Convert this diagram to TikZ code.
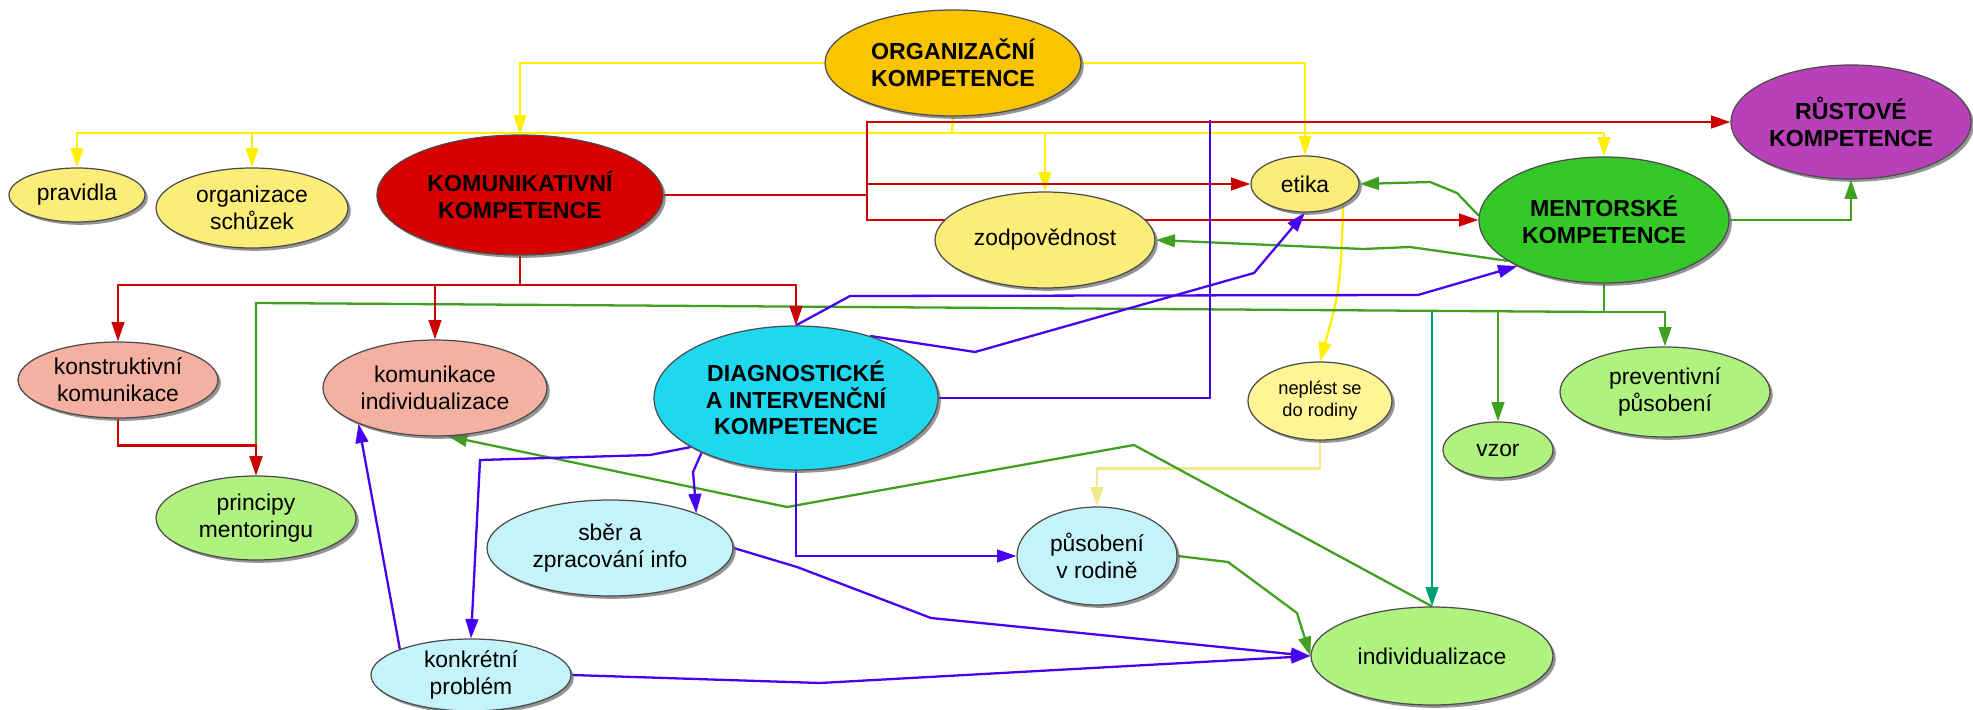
\documentclass[tikz,border=0pt]{standalone}
\usepackage{fontspec}
\setmainfont{Liberation Sans}
\usepackage{tikz}
\usepackage{xcolor}
\usetikzlibrary{shapes.geometric}
\usetikzlibrary{shadows}
\usetikzlibrary{arrows.meta}
\usetikzlibrary{backgrounds}

\definecolor{orgfill}{RGB}{250,196,0}
\definecolor{komfill}{RGB}{214,0,0}
\definecolor{rustfill}{RGB}{184,64,184}
\definecolor{mentfill}{RGB}{52,200,40}
\definecolor{diagfill}{RGB}{30,216,240}
\definecolor{leafyellow}{RGB}{252,236,120}
\definecolor{paleyellow}{RGB}{255,245,150}
\definecolor{leafpink}{RGB}{244,176,160}
\definecolor{leafgreen}{RGB}{176,242,128}
\definecolor{leafcyan}{RGB}{196,244,250}
\definecolor{lnyellow}{RGB}{255,240,0}
\definecolor{lnpale}{RGB}{240,232,140}
\definecolor{lnred}{RGB}{204,0,0}
\definecolor{lngreen}{RGB}{64,160,32}
\definecolor{lnteal}{RGB}{0,160,115}
\definecolor{lnblue}{RGB}{72,0,240}

\tikzset{
	bubble/.style={ellipse, draw=black!70, line width=0.35pt, inner sep=0pt, align=center,
		font=\fontsize{6.5}{7.6}\selectfont,
		drop shadow={shadow xshift=0.8pt, shadow yshift=-0.8pt, fill=black!60, opacity=0.7}},
	kompetence/.style={bubble, font=\bfseries\fontsize{6.6}{7.6}\selectfont},
	wire/.style={line width=0.65pt},
	arrowline/.style={line width=0.65pt, -{Triangle[length=5.5pt,width=3.6pt]}},
}

\begin{document}
\begin{tikzpicture}
	\useasboundingbox (0,0) rectangle (19.73,-7.10);
	\node [kompetence, fill=orgfill, minimum width=2.56cm, minimum height=1.06cm] (org) at (9.53,-0.63) {ORGANIZAČNÍ\\KOMPETENCE};
	\node [kompetence, fill=komfill, minimum width=2.86cm, minimum height=1.20cm] (komun) at (5.20,-1.95) {KOMUNIKATIVNÍ\\KOMPETENCE};
	\node [kompetence, fill=rustfill, minimum width=2.40cm, minimum height=1.14cm] (rust) at (18.51,-1.22) {RŮSTOVÉ\\KOMPETENCE};
	\node [kompetence, fill=mentfill, minimum width=2.50cm, minimum height=1.26cm] (ment) at (16.04,-2.20) {MENTORSKÉ\\KOMPETENCE};
	\node [kompetence, fill=diagfill, minimum width=2.84cm, minimum height=1.44cm] (diag) at (7.96,-3.98) {DIAGNOSTICKÉ\\A INTERVENČNÍ\\KOMPETENCE};
	\node [bubble, fill=leafyellow, minimum width=1.36cm, minimum height=0.54cm] (pravidla) at (0.77,-1.95) {pravidla};
	\node [bubble, fill=leafyellow, minimum width=1.92cm, minimum height=0.80cm] (schuzky) at (2.52,-2.08) {organizace\\schůzek};
	\node [bubble, fill=leafyellow, minimum width=1.08cm, minimum height=0.56cm] (etika) at (13.05,-1.84) {etika};
	\node [bubble, fill=leafyellow, minimum width=2.20cm, minimum height=0.96cm] (zodp) at (10.45,-2.40) {zodpovědnost};
	\node [bubble, fill=paleyellow, minimum width=1.44cm, minimum height=0.78cm, font=\fontsize{5.2}{6.3}\selectfont] (neplest) at (13.20,-4.01) {neplést se\\do rodiny};
	\node [bubble, fill=leafpink, minimum width=2.00cm, minimum height=0.76cm] (konstr) at (1.18,-3.80) {konstruktivní\\komunikace};
	\node [bubble, fill=leafpink, minimum width=2.24cm, minimum height=0.96cm] (komind) at (4.35,-3.88) {komunikace\\individualizace};
	\node [bubble, fill=leafgreen, minimum width=2.00cm, minimum height=0.84cm] (principy) at (2.56,-5.18) {principy\\mentoringu};
	\node [bubble, fill=leafgreen, minimum width=2.10cm, minimum height=0.90cm] (prev) at (16.65,-3.92) {preventivní\\působení};
	\node [bubble, fill=leafgreen, minimum width=1.10cm, minimum height=0.56cm] (vzor) at (14.98,-4.50) {vzor};
	\node [bubble, fill=leafgreen, minimum width=2.42cm, minimum height=0.98cm] (indiv) at (14.32,-6.56) {individualizace};
	\node [bubble, fill=leafcyan, minimum width=2.46cm, minimum height=0.96cm] (sber) at (6.10,-5.48) {sběr a\\zpracování info};
	\node [bubble, fill=leafcyan, minimum width=1.60cm, minimum height=0.98cm] (pusob) at (10.97,-5.56) {působení\\v rodině};
	\node [bubble, fill=leafcyan, minimum width=2.00cm, minimum height=0.72cm] (konkr) at (4.71,-6.75) {konkrétní\\problém};
	\coordinate (yj) at (9.52,-1.33);
	\coordinate (rj) at (8.67,-1.95);
	\coordinate (rs) at (5.20,-2.85);
	\coordinate (gj) at (16.04,-3.12);
	\coordinate (bt) at (12.10,-1.20);
	\begin{scope}[on background layer]
		\draw [wire, lnyellow] (org.south) -- (yj);
		\draw [arrowline, lnyellow] (org.west) -| (komun.north);
		\draw [arrowline, lnyellow] (org.east) -| (etika.north);
		\draw [arrowline, lnyellow] (yj) -| (pravidla.north);
		\draw [arrowline, lnyellow] (yj) -| (schuzky.north);
		\draw [arrowline, lnyellow] (yj) -| (zodp.north);
		\draw [arrowline, lnyellow] (yj) -| (ment.north);
		\draw [arrowline, lnyellow] (etika.-28) .. controls (13.40,-2.90) .. (neplest.north);
		\draw [arrowline, lnpale] (neplest.south) -- ++(0,-0.28) -| (pusob.north);
		\draw [wire, lngreen] (ment.south) -- (gj);
		\draw [arrowline, lngreen] (gj) -- (principy.north |- 0,-3.03) -- (principy.north);
		\draw [arrowline, lngreen] (gj) -| (prev.north);
		\draw [arrowline, lngreen] (vzor.north |- gj) -- (vzor.north);
		\draw [arrowline, lnteal] (indiv.north |- gj) -- (indiv.north);
		\draw [arrowline, lngreen] (ment.east) -| (rust.south);
		\draw [arrowline, lngreen] (ment.178) -- (14.57,-1.93) -- (14.30,-1.82) -- (etika.east);
		\draw [arrowline, lngreen] (ment.203) -- (14.10,-2.47) -- (13.63,-2.49) -- (zodp.east);
		\draw [arrowline, lngreen] (indiv.north) -- (11.34,-4.45) -- (7.87,-5.07) -- (komind.-75);
		\draw [arrowline, lngreen] (pusob.east) -- (12.28,-5.62) -- (12.97,-6.13) -- (indiv.west);
		\draw [wire, lnred] (komun.east) -- (rj);
		\draw [arrowline, lnred] (rj) |- (rust.west);
		\draw [arrowline, lnred] (rj) |- (etika.west);
		\draw [arrowline, lnred] (rj) |- (ment.west);
		\draw [wire, lnred] (komun.south) -- (rs);
		\draw [arrowline, lnred] (rs) -| (konstr.north);
		\draw [arrowline, lnred] (rs) -| (komind.north);
		\draw [arrowline, lnred] (rs) -| (diag.north);
		\draw [arrowline, lnred] (konstr.south) -- ++(0,-0.27) -| (principy.north);
		\draw [arrowline, lnblue] (diag.north) -- (8.50,-2.96) -- (14.18,-2.95) -- (ment.208);
		\draw [arrowline, lnblue] (diag.40) -- (9.75,-3.52) -- (12.54,-2.73) -- (etika.south);
		\draw [wire, lnblue] (diag.east) -| (bt);
		\draw [arrowline, lnblue] (diag.205) -- (6.50,-4.55) -- (4.80,-4.60) -- (konkr.north);
		\draw [arrowline, lnblue] (diag.210) -- (6.93,-4.72) -- (6.95,-4.95) -- (sber.22);
		\draw [arrowline, lnblue] (diag.south) |- (pusob.west);
		\draw [arrowline, lnblue] (sber.east) -- (7.97,-5.67) -- (9.31,-6.18) -- (indiv.west);
		\draw [arrowline, lnblue] (konkr.east) -- (8.20,-6.83) -- (indiv.west);
		\draw [arrowline, lnblue] (konkr.160) -- (komind.205);
	\end{scope}
\end{tikzpicture}
\end{document}
